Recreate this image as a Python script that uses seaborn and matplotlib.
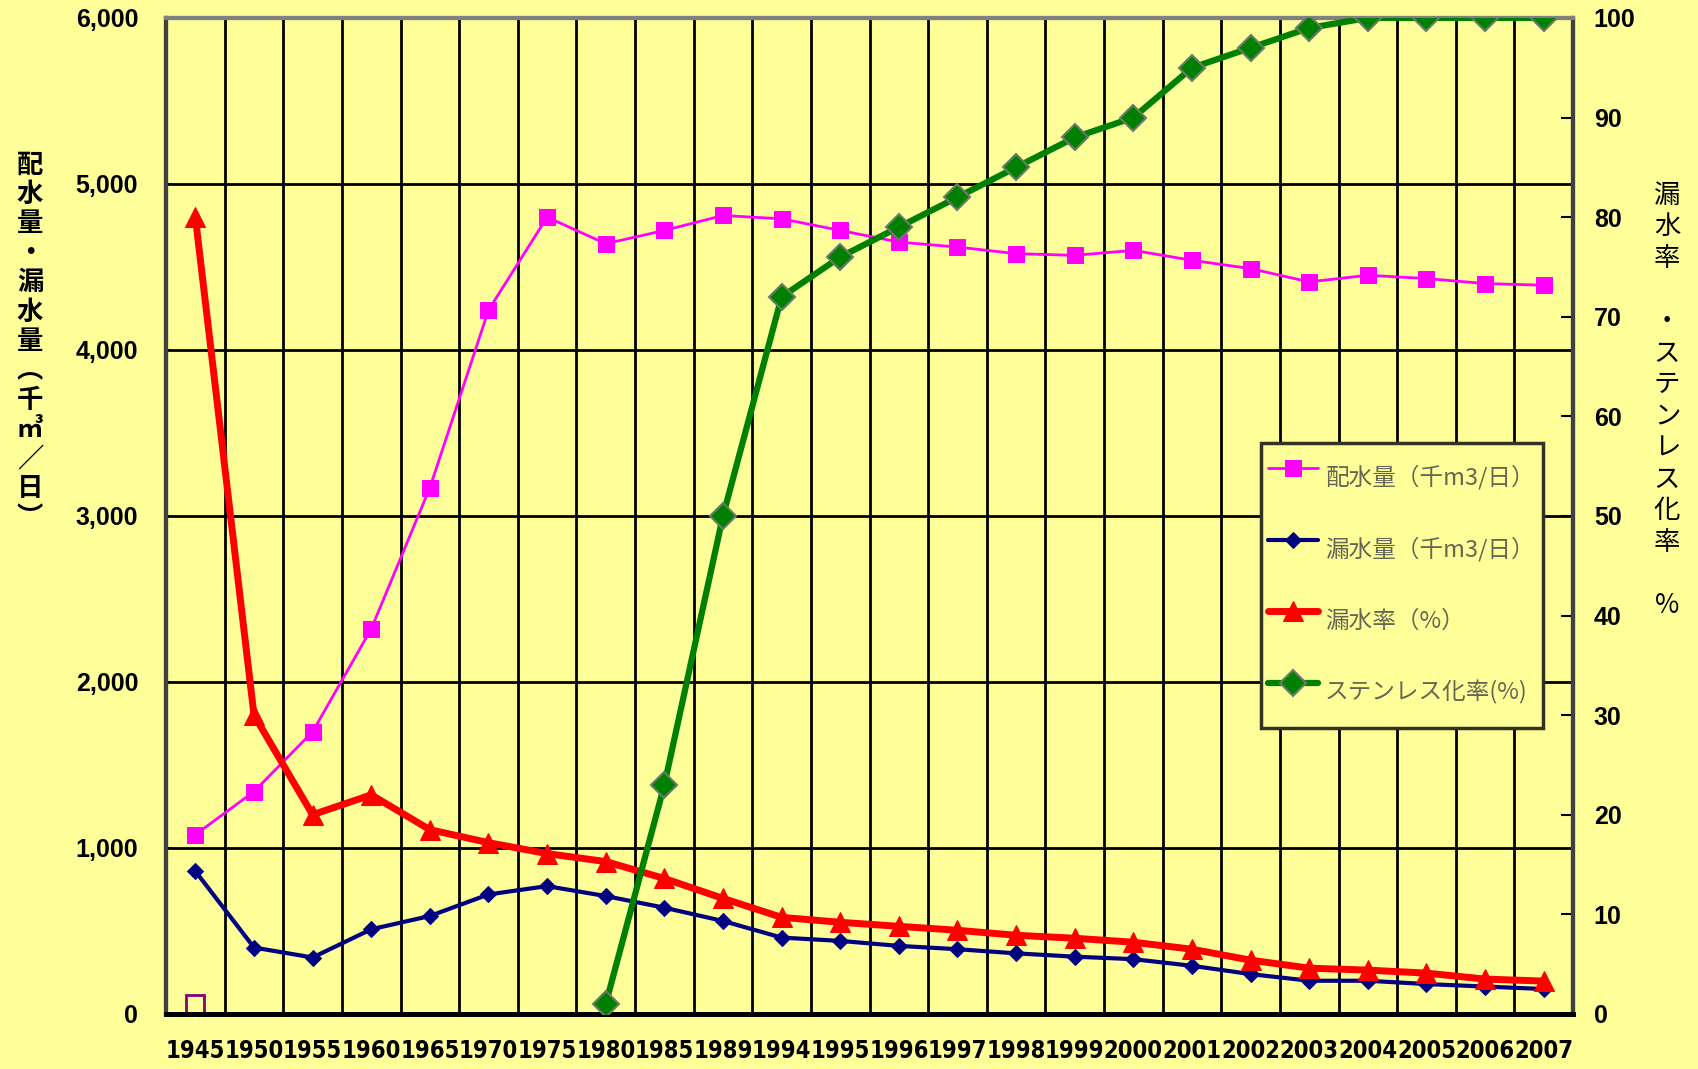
import numpy as np
import pandas as pd
import matplotlib
matplotlib.use("Agg")
import matplotlib.pyplot as plt
import seaborn as sns
from matplotlib import font_manager
from matplotlib.ticker import FixedLocator, FuncFormatter

# ---- data -------------------------------------------------------------
years = ["1945", "1950", "1955", "1960", "1965", "1970", "1975", "1980",
         "1985", "1989", "1994", "1995", "1996", "1997", "1998", "1999",
         "2000", "2001", "2002", "2003", "2004", "2005", "2006", "2007"]

# 配水量 (千m3/日)
supply = [1080, 1340, 1700, 2320, 3170, 4240, 4800, 4640, 4720, 4810,
          4790, 4720, 4650, 4620, 4580, 4570, 4600, 4540, 4490, 4410,
          4450, 4430, 4400, 4390]

# 漏水量 (千m3/日)
leakage = [860, 400, 340, 510, 590, 720, 770, 710, 640, 560,
           460, 440, 410, 390, 365, 345, 330, 290, 240, 200,
           200, 180, 165, 150]

# 漏水率 (%)
leak_rate = [80, 30, 20, 22, 18.5, 17.2, 16.1, 15.3, 13.6, 11.6,
             9.7, 9.2, 8.8, 8.4, 7.9, 7.6, 7.2, 6.5, 5.4, 4.6,
             4.4, 4.1, 3.5, 3.3]

# ステンレス化率 (%) — no data before 1980
stainless = [np.nan] * 7 + [1, 23, 50, 72, 76, 79, 82, 85, 88, 90,
                            95, 97, 99, 100, 100, 100, 100]

# stray point at 1945 (no legend entry)
stray = [60] + [np.nan] * 23

labels = ["配水量（千m3/日）", "漏水量（千m3/日）", "漏水率（%）", "ステンレス化率(%)"]

# ---- style ------------------------------------------------------------
BG = "#FFFF99"
sns.set_theme(style="white")
plt.rcParams["font.family"] = ["Noto Sans CJK JP", "DejaVu Sans"]

available = {f.name for f in font_manager.fontManager.ttflist}
if "Liberation Sans Narrow" in available:
    xfont = dict(family="Liberation Sans Narrow", size=22)
else:
    xfont = dict(family="DejaVu Sans", stretch="condensed", size=17)
num_font = dict(family="Liberation Sans", size=18, weight="bold")

df = pd.DataFrame({
    "pos": np.arange(len(years)),
    "year": years,
    "supply": supply,
    "leakage": leakage,
    "leak_rate": leak_rate,
    "stainless": stainless,
    "stray": stray,
})

fig = plt.figure(figsize=(16.98, 10.69), dpi=100, facecolor=BG)
ax = fig.add_axes([0.0978, 0.0515, 0.8286, 0.9317])
ax.set_facecolor(BG)
ax2 = ax.twinx()
ax2.patch.set_visible(False)

handles = []

sns.lineplot(data=df, x="pos", y="supply", ax=ax, color="#FF00FF", lw=2.0,
             marker="s", markersize=12, markeredgecolor="#FF00FF",
             errorbar=None, legend=False, zorder=4)
handles.append(ax.lines[-1])

sns.lineplot(data=df, x="pos", y="leakage", ax=ax, color="#000080", lw=3,
             marker="D", markersize=8, markeredgecolor="#000080",
             errorbar=None, legend=False, zorder=4)
handles.append(ax.lines[-1])

sns.lineplot(data=df.dropna(subset=["stray"]), x="pos", y="stray", ax=ax,
             color="#800080", lw=0, marker="s", markersize=13,
             markerfacecolor="none", markeredgecolor="#800080",
             markeredgewidth=2, errorbar=None, legend=False, zorder=4)

sns.lineplot(data=df, x="pos", y="leak_rate", ax=ax2, color="#FF0000", lw=5,
             marker="^", markersize=15, markeredgecolor="#FF0000",
             errorbar=None, legend=False, zorder=4)
handles.append(ax2.lines[-1])

sns.lineplot(data=df.dropna(subset=["stainless"]), x="pos", y="stainless",
             ax=ax2, color="#008000", lw=4.5, marker="D", markersize=13,
             markeredgecolor="#6B7B6B", markeredgewidth=1.5,
             errorbar=None, legend=False, zorder=4)
handles.append(ax2.lines[-1])

# ---- axes -------------------------------------------------------------
n = len(years)
ax.set_xlim(-0.5, n - 0.5)
ax.set_ylim(0, 6000)
ax2.set_ylim(0, 100)

ax.xaxis.set_major_locator(FixedLocator(np.arange(n)))
ax.set_xticklabels(years, fontweight="bold", **xfont)
ax.xaxis.set_minor_locator(FixedLocator(np.arange(0.5, n - 1, 1)))
ax.tick_params(axis="x", which="major", length=0, pad=18, colors="black")
ax.tick_params(axis="x", which="minor", length=0)
ax.grid(True, axis="x", which="minor", color="black", lw=2)
ax.grid(False, axis="x", which="major")

ax.set_yticks(np.arange(0, 6001, 1000))
ax.yaxis.set_major_formatter(FuncFormatter(lambda v, p: f"{int(v):,}"))
for t in ax.get_yticklabels():
    t.set_fontproperties(font_manager.FontProperties(**num_font))
ax.tick_params(axis="y", length=4, direction="in", pad=20, colors="black",
               left=True)
ax.grid(True, axis="y", which="major", color="black", lw=2)

ax2.set_yticks(np.arange(0, 101, 10))
for t in ax2.get_yticklabels():
    t.set_fontproperties(font_manager.FontProperties(**num_font))
ax2.tick_params(axis="y", length=9, direction="in", pad=15, colors="black",
                right=True, width=1.5)
ax2.grid(False)

ax.set_xlabel("")
ax.set_ylabel("")
ax2.set_ylabel("")

for a in (ax, ax2):
    a.spines["left"].set_color("#404040")
    a.spines["left"].set_linewidth(3)
    a.spines["right"].set_color("#404040")
    a.spines["right"].set_linewidth(3)
    a.spines["top"].set_color("#808080")
    a.spines["top"].set_linewidth(3)
    a.spines["bottom"].set_color("black")
    a.spines["bottom"].set_linewidth(3.5)

# ---- legend -----------------------------------------------------------
leg = ax2.legend(handles, labels, loc="upper left",
                 bbox_to_anchor=(0.778, 0.573), frameon=True, fancybox=False,
                 facecolor=BG, edgecolor="#333322", framealpha=1,
                 prop=dict(family=["Noto Sans CJK JP", "DejaVu Sans"], size=17),
                 labelspacing=0.74, handleheight=3.15, handlelength=2.08,
                 handletextpad=0.32, borderpad=0.33, borderaxespad=0)
leg.get_frame().set_linewidth(2.5)
for txt in leg.get_texts():
    txt.set_color("#666655")
leg.set_zorder(10)

# ---- vertical axis titles ---------------------------------------------
W, H = 1698, 1069
left_title = "配水量・漏水量︵千㎥／日︶"
for i, ch in enumerate(left_title):
    fig.text(30 / W, 1 - (165 + 29.4 * i) / H, ch, ha="center", va="center",
             fontsize=19, color="black", fontweight="bold")

right_title = ["漏", "水", "率", "", "・", "ス", "テ", "ン", "レ", "ス", "化", "率", "", "%"]
for i, ch in enumerate(right_title):
    if ch:
        fig.text(1667 / W, 1 - (195 + 31.6 * i) / H, ch, ha="center",
                 va="center", fontsize=19, color="black")

fig.savefig("out.png", dpi=100, facecolor=BG)
